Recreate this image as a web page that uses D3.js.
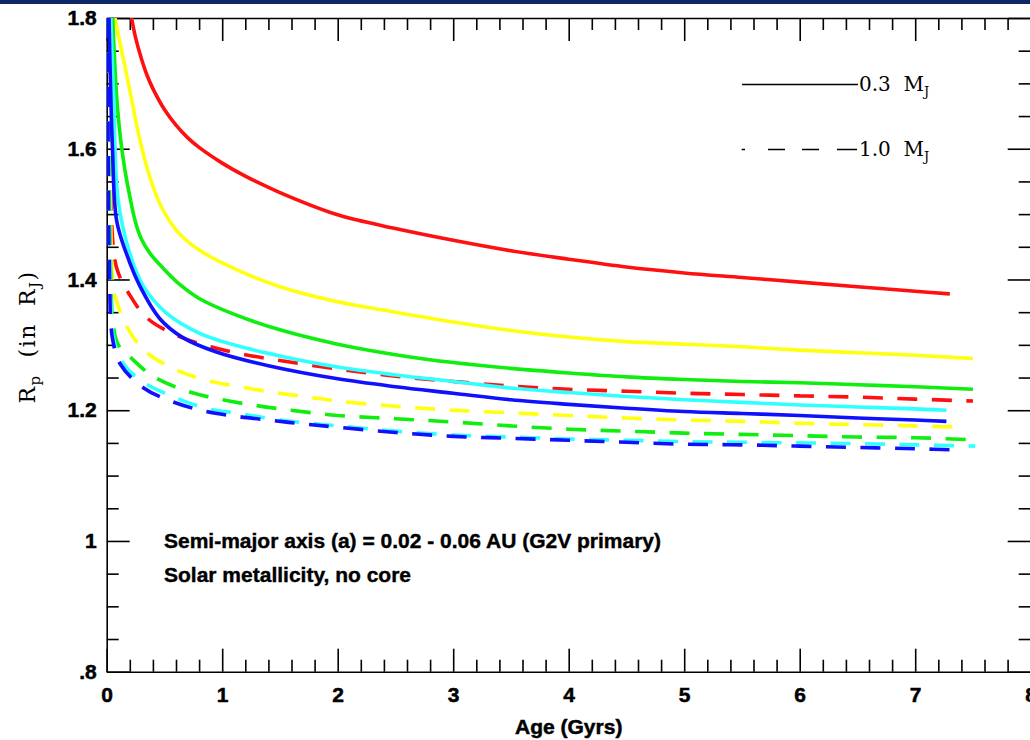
<!DOCTYPE html>
<html>
<head>
<meta charset="utf-8">
<script src="https://cdn.jsdelivr.net/npm/d3@7"></script>
<style>
  html, body { margin: 0; padding: 0; background: #fff; }
  svg { display: block; }
</style>
</head>
<body>
<svg id="chart" width="1030" height="740"></svg>
<script>
// ---------------- DATA ----------------
// Age (Gyr), planet radius (R_J)
const redSolid = [[0.215,1.8],[0.25,1.770],[0.3,1.738],[0.35,1.712],[0.4,1.692],[0.5,1.660],[0.6,1.636],[0.7,1.617],[0.8,1.602],[1.0,1.578],[1.2,1.558],[1.5,1.533],[2,1.499],[2.5,1.478],[3,1.460],[3.5,1.444],[4,1.431],[4.5,1.419],[5,1.410],[5.5,1.403],[6,1.396],[6.5,1.389],[7,1.382],[7.3,1.378]];
const yellowSolid = [[0.072,1.8],[0.11,1.766],[0.158,1.726],[0.216,1.675],[0.274,1.624],[0.346,1.573],[0.40,1.543],[0.46,1.516],[0.55,1.488],[0.65,1.466],[0.8,1.445],[1.1,1.417],[1.5,1.389],[2,1.366],[2.5,1.350],[3,1.335],[3.5,1.322],[4,1.312],[4.5,1.305],[5,1.301],[5.5,1.297],[6,1.292],[6.5,1.288],[7,1.284],[7.5,1.279]];
const greenSolid = [[0.052,1.8],[0.07,1.73],[0.09,1.67],[0.12,1.615],[0.16,1.565],[0.2,1.527],[0.25,1.487],[0.3,1.462],[0.375,1.440],[0.49,1.417],[0.635,1.392],[0.8,1.371],[1.1,1.347],[1.5,1.323],[2,1.301],[2.5,1.285],[3,1.273],[3.5,1.264],[4,1.257],[4.5,1.251],[5,1.247],[5.5,1.244],[6,1.242],[6.5,1.239],[7,1.236],[7.5,1.232]];
const cyanSolid = [[0.035,1.8],[0.06,1.68],[0.1,1.52],[0.2,1.44],[0.32,1.389],[0.52,1.348],[0.8,1.318],[1.1,1.300],[1.5,1.283],[2,1.266],[2.5,1.254],[3,1.244],[3.5,1.234],[4,1.227],[4.5,1.221],[5,1.216],[5.5,1.212],[6,1.208],[6.5,1.205],[7,1.202],[7.27,1.200]];
const blueSolid = [[0.02,1.8],[0.05,1.6],[0.086,1.49],[0.17,1.44],[0.29,1.389],[0.46,1.340],[0.66,1.311],[0.95,1.289],[1.4,1.268],[2,1.248],[2.5,1.236],[3,1.226],[3.5,1.216],[4,1.209],[4.5,1.203],[5,1.198],[5.5,1.195],[6,1.192],[6.5,1.188],[7,1.185],[7.27,1.183]];

const redDashed = [[0.02,1.8],[0.03,1.6],[0.045,1.48],[0.07,1.43],[0.1,1.41],[0.19,1.379],[0.35,1.341],[0.6,1.315],[0.9,1.297],[1.2,1.285],[1.5,1.276],[2,1.263],[2.5,1.252],[3,1.244],[3.5,1.237],[4,1.232],[4.5,1.229],[5,1.226],[5.5,1.224],[6,1.222],[6.5,1.220],[7,1.217],[7.5,1.214]];
const yellowDashed = [[0.015,1.8],[0.03,1.55],[0.055,1.39],[0.08,1.37],[0.16,1.333],[0.32,1.292],[0.6,1.262],[0.86,1.246],[1.15,1.236],[1.45,1.227],[1.75,1.220],[2,1.214],[2.5,1.206],[3,1.200],[3.5,1.196],[4,1.192],[4.5,1.188],[5,1.185],[5.5,1.183],[6,1.180],[6.5,1.178],[7,1.176],[7.4,1.174]];
const greenDashed = [[0.012,1.8],[0.03,1.45],[0.057,1.33],[0.1,1.30],[0.2,1.282],[0.4,1.252],[0.7,1.229],[1,1.216],[1.3,1.207],[1.55,1.201],[2,1.192],[2.5,1.187],[3,1.182],[3.5,1.176],[4,1.171],[4.5,1.168],[5,1.165],[5.5,1.163],[6,1.161],[6.5,1.159],[7,1.158],[7.46,1.155]];
const cyanDashed = [[0.01,1.8],[0.03,1.40],[0.06,1.31],[0.13,1.275],[0.29,1.246],[0.57,1.221],[0.86,1.203],[1.15,1.195],[1.5,1.185],[2,1.176],[2.5,1.168],[3,1.162],[3.5,1.159],[4,1.156],[4.5,1.154],[5,1.152],[5.5,1.151],[6,1.150],[6.5,1.149],[7,1.147],[7.52,1.145]];
const blueDashed = [[0.008,1.8],[0.025,1.40],[0.05,1.31],[0.12,1.27],[0.32,1.234],[0.57,1.213],[0.86,1.198],[1.15,1.190],[1.45,1.184],[1.7,1.179],[2,1.174],[2.5,1.166],[3,1.160],[3.5,1.157],[4,1.154],[4.5,1.151],[5,1.148],[5.5,1.147],[6,1.145],[6.5,1.143],[7,1.141],[7.4,1.139]];

const seriesColors = ["#ff1010", "#ffff10", "#10ee10", "#30ffff", "#1010ff"];
const solidSeries = [redSolid, yellowSolid, greenSolid, cyanSolid, blueSolid];
const dashedSeries = [redDashed, yellowDashed, greenDashed, cyanDashed, blueDashed];

const xMajorTicks = [0, 1, 2, 3, 4, 5, 6, 7, 8];
const xTickLabels = ["0", "1", "2", "3", "4", "5", "6", "7", "8"];
const yMajorTicks = [0.8, 1.0, 1.2, 1.4, 1.6, 1.8];
const yTickLabels = [".8", "1", "1.2", "1.4", "1.6", "1.8"];
const legendLabels = ["0.3", "1.0"];
const noteLines = ["Semi-major axis (a) = 0.02 - 0.06 AU (G2V primary)", "Solar metallicity, no core"];
const xTitle = "Age (Gyrs)";

// ---------------- DRAW ----------------
const svg = d3.select("#chart");
const x = d3.scaleLinear().domain([0, 8]).range([106.7, 1030.7]);
const y = d3.scaleLinear().domain([0.8, 1.8]).range([671.7, 18]);

// top bar
svg.append("rect").attr("x", 0).attr("y", 0).attr("width", 1030).attr("height", 4).attr("fill", "#0e2866");

svg.append("defs").append("clipPath").attr("id", "plotclip")
  .append("rect").attr("x", x(0)).attr("y", y(1.8)).attr("width", x(8) - x(0)).attr("height", y(0.8) - y(1.8));

const xMinor = d3.range(0, 8.0001, 0.2).map(v => +v.toFixed(2)).filter(v => Math.abs(v - Math.round(v)) > 1e-6);
const yMinor = d3.range(0.8, 1.8001, 0.05).map(v => +v.toFixed(2)).filter(v => Math.abs(v * 5 - Math.round(v * 5)) > 1e-6);

const axisFont = "'Liberation Sans', Arial, sans-serif";

function styleAxis(g) {
  g.selectAll("path.domain").attr("stroke", "#000").attr("stroke-width", 1.6);
  g.selectAll(".tick line").attr("stroke", "#000").attr("stroke-width", 1.6);
  g.selectAll(".tick text").attr("font-family", axisFont).attr("font-weight", "bold")
    .attr("font-size", 21).attr("fill", "#000").attr("stroke", "#000").attr("stroke-width", 0.5);
}

// bottom
const gB = svg.append("g").attr("transform", `translate(0,${y(0.8)})`);
gB.call(d3.axisBottom(x).tickValues(xMajorTicks).tickSize(-23).tickSizeOuter(0).tickPadding(15)
  .tickFormat((d, i) => xTickLabels[i]));
gB.append("g").call(d3.axisBottom(x).tickValues(xMinor).tickSize(-12).tickSizeOuter(0).tickFormat(""))
  .call(g => g.select(".domain").remove());
styleAxis(gB);

// top
const gT = svg.append("g").attr("transform", `translate(0,${y(1.8)})`);
gT.call(d3.axisTop(x).tickValues(xMajorTicks).tickSize(-23).tickSizeOuter(0).tickFormat(""));
gT.append("g").call(d3.axisTop(x).tickValues(xMinor).tickSize(-12).tickSizeOuter(0).tickFormat(""))
  .call(g => g.select(".domain").remove());
styleAxis(gT);

// left
const gL = svg.append("g").attr("transform", `translate(${x(0)},0)`);
gL.call(d3.axisLeft(y).tickValues(yMajorTicks).tickSize(-23).tickSizeOuter(0).tickPadding(10)
  .tickFormat((d, i) => yTickLabels[i]));
gL.append("g").call(d3.axisLeft(y).tickValues(yMinor).tickSize(-12).tickSizeOuter(0).tickFormat(""))
  .call(g => g.select(".domain").remove());
styleAxis(gL);

// right
const gR = svg.append("g").attr("transform", `translate(${x(8)},0)`);
gR.call(d3.axisRight(y).tickValues(yMajorTicks).tickSize(-23).tickSizeOuter(0).tickFormat(""));
gR.append("g").call(d3.axisRight(y).tickValues(yMinor).tickSize(-12).tickSizeOuter(0).tickFormat(""))
  .call(g => g.select(".domain").remove());
styleAxis(gR);

// curves
const line = d3.line().x(d => x(d[0])).y(d => y(d[1])).curve(d3.curveCatmullRom.alpha(0.5));
const plot = svg.append("g").attr("clip-path", "url(#plotclip)");
dashedSeries.forEach((s, i) => {
  plot.append("path").datum(s).attr("d", line).attr("fill", "none")
    .attr("stroke", seriesColors[i]).attr("stroke-width", 3.6)
    .attr("stroke-dasharray", "20,14.5");
});
solidSeries.forEach((s, i) => {
  plot.append("path").datum(s).attr("d", line).attr("fill", "none")
    .attr("stroke", seriesColors[i]).attr("stroke-width", 3.6);
});

// legend
const serif = "'DejaVu Serif', 'Liberation Serif', serif";
svg.append("line").attr("x1", 742).attr("x2", 858).attr("y1", 84.5).attr("y2", 84.5)
  .attr("stroke", "#000").attr("stroke-width", 1.5);
svg.append("line").attr("x1", 857).attr("x2", 741.7).attr("y1", 149.5).attr("y2", 149.5)
  .attr("stroke", "#000").attr("stroke-width", 1.5).attr("stroke-dasharray", "20,18,17,17,17,23,4");
legendLabels.forEach((lab, i) => {
  const t = svg.append("text").attr("x", 859).attr("y", [91, 156][i])
    .attr("font-family", serif).attr("font-size", 20).attr("fill", "#000");
  t.append("tspan").text(lab + "\u00a0\u00a0M");
  t.append("tspan").attr("font-size", 13).attr("dy", 5).text("J");
});

// y title
const yt = svg.append("text").attr("transform", "translate(35,337) rotate(-90)")
  .attr("text-anchor", "middle").attr("font-family", serif).attr("font-size", 22)
  .attr("letter-spacing", 1.5).attr("fill", "#000");
yt.append("tspan").text("R");
yt.append("tspan").attr("font-size", 15).attr("dy", 5).text("p");
yt.append("tspan").attr("dy", -5).text("\u00a0\u00a0(in\u00a0\u00a0R");
yt.append("tspan").attr("font-size", 15).attr("dy", 5).text("J");
yt.append("tspan").attr("dy", -5).text(")");

// x title
svg.append("text").attr("x", (x(0) + x(8)) / 2).attr("y", 734).attr("text-anchor", "middle")
  .attr("font-family", axisFont).attr("font-weight", "bold").attr("font-size", 21)
  .attr("stroke", "#000").attr("stroke-width", 0.5).text(xTitle);

// notes
noteLines.forEach((t, i) => {
  svg.append("text").attr("x", 164).attr("y", [548, 582][i])
    .attr("font-family", axisFont).attr("font-weight", "bold").attr("font-size", 21)
    .attr("stroke", "#000").attr("stroke-width", 0.4).text(t);
});
</script>
</body>
</html>
